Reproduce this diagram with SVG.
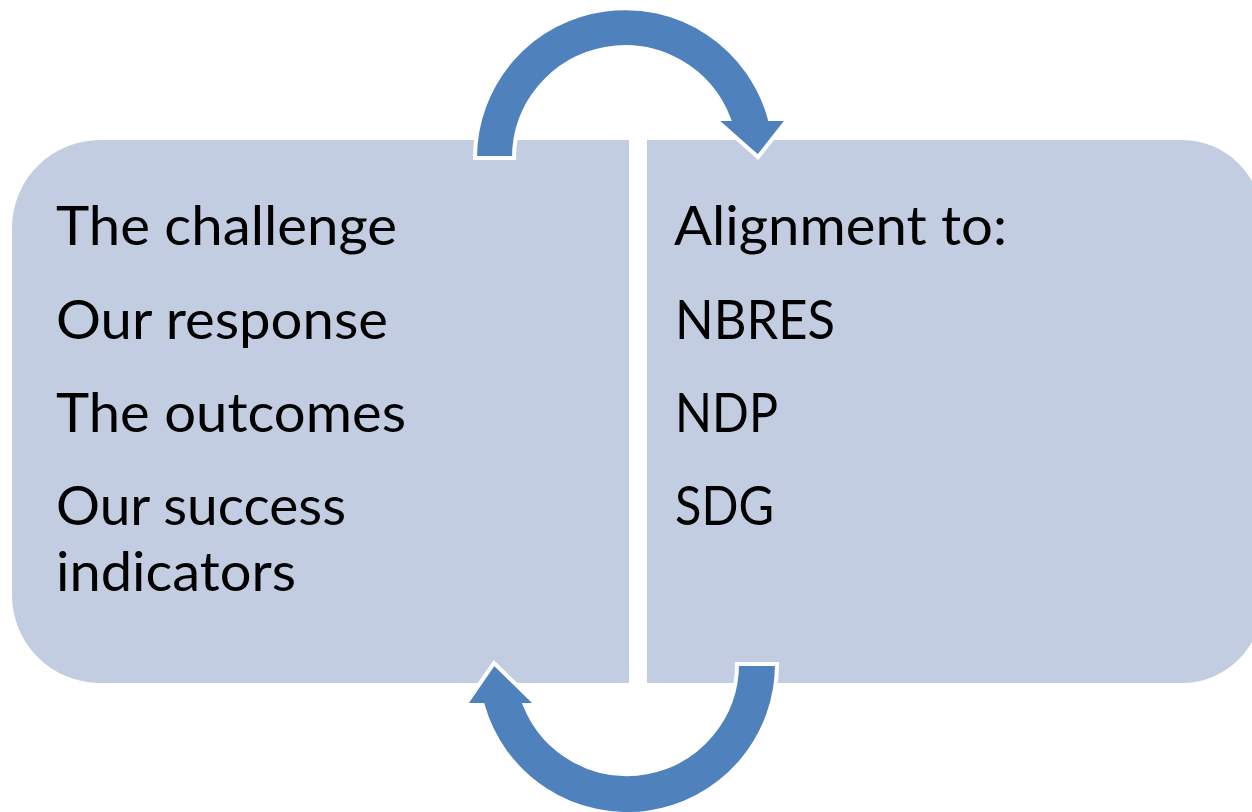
<svg xmlns="http://www.w3.org/2000/svg" width="1252" height="812" viewBox="0 0 1252 812">
<style>
.box{fill:#C3CDE2;stroke:none}
.arrow{fill:#4F81BD;stroke:#FFFFFF;stroke-width:4;stroke-linejoin:miter}
.t{font-family:Lato,"Liberation Sans",sans-serif;font-size:54px;fill:#000000}
</style>
<rect width="1252" height="812" fill="#FFFFFF"/>
<g id="left-node">
<path class="box" d="M 100 140 L 629 140 L 629 683 L 100 683 A 88 88 0 0 1 12 595 L 12 228 A 88 88 0 0 1 100 140 Z"/>
<text class="t" x="56" y="245" textLength="341" lengthAdjust="spacingAndGlyphs">The challenge</text>
<text class="t" x="56" y="339" textLength="332" lengthAdjust="spacingAndGlyphs">Our response</text>
<text class="t" x="56" y="432" textLength="350" lengthAdjust="spacingAndGlyphs">The outcomes</text>
<text class="t" x="56" y="525" textLength="290" lengthAdjust="spacingAndGlyphs">Our success</text>
<text class="t" x="56" y="591" textLength="240" lengthAdjust="spacingAndGlyphs">indicators</text>
</g>
<g id="right-node">
<path class="box" d="M 647 140 L 1182 140 A 80 80 0 0 1 1262 220 L 1262 603 A 80 80 0 0 1 1182 683 L 647 683 Z"/>
<text class="t" x="674" y="245" textLength="333" lengthAdjust="spacingAndGlyphs">Alignment to:</text>
<text class="t" x="675" y="339" textLength="160" lengthAdjust="spacingAndGlyphs">NBRES</text>
<text class="t" x="675" y="432" textLength="103" lengthAdjust="spacingAndGlyphs">NDP</text>
<text class="t" x="675" y="525" textLength="99" lengthAdjust="spacingAndGlyphs">SDG</text>
</g>
<g id="connectors">
<path class="arrow" d="M 475 158 A 150 150 0 0 1 769.8 119 L 788 119 L 758 157 L 715 119 L 728.9 119 A 111 111 0 0 0 514 158 Z"/>
<path class="arrow" d="M 737 664 L 777 664 A 150 150 0 0 1 482.7 705 L 465 705 L 494 663 L 537 705 L 524.9 705 A 110 110 0 0 0 737 664 Z"/>
</g>
</svg>
